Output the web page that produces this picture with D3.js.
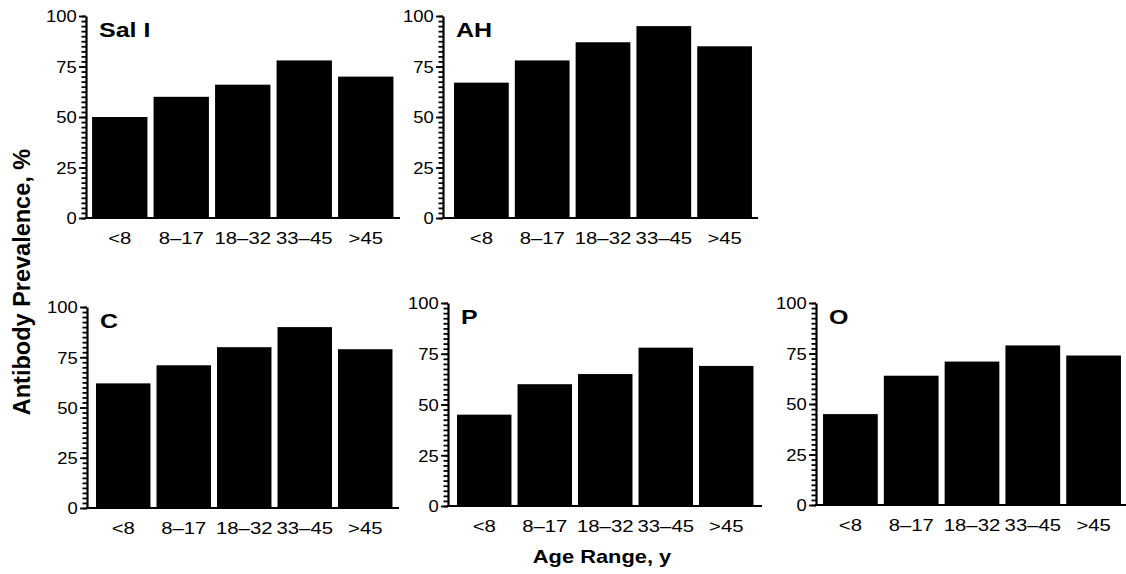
<!DOCTYPE html>
<html>
<head>
<meta charset="utf-8">
<script src="https://cdn.jsdelivr.net/npm/d3@7"></script>
<style>
  body { margin: 0; background: #fff; }
  svg { display: block; font-family: "Liberation Sans", Arial, sans-serif; }
</style>
</head>
<body>
<svg id="chart" width="1126" height="574"></svg>
<script>
// age groups shared by all panels
const ageGroups = ['<8', '8–17', '18–32', '33–45', '>45'];
const yTicks = [0, 25, 50, 75, 100];

// antibody prevalence, % per antigen
const salI = [50, 60, 66, 78, 70];
const ahVals = [67, 78, 87, 95, 85];
const cVals = [62, 71, 80, 90, 79];
const pVals = [45, 60, 65, 78, 69];
const oVals = [45, 64, 71, 79, 74];

// panel placement (pixels)
const panels = [
  { name: 'Sal I', values: salI, ax: 86, top: 16, bottom: 218, r0: 89, r1: 396.5, end: 400 },
  { name: 'AH', values: ahVals, ax: 443, top: 16, bottom: 218, r0: 451, r1: 755, end: 758 },
  { name: 'C', values: cVals, ax: 87, top: 307, bottom: 508, r0: 93, r1: 395.5, end: 399 },
  { name: 'P', values: pVals, ax: 448, top: 303, bottom: 506, r0: 454, r1: 756.5, end: 762 },
  { name: 'O', values: oVals, ax: 816, top: 303, bottom: 505, r0: 820, r1: 1124, end: 1126 },
];

const svg = d3.select('#chart');

panels.forEach(p => {
  const g = svg.append('g');
  const x = d3.scaleBand().domain(ageGroups).range([p.r0, p.r1])
    .paddingInner(0.1).paddingOuter(0.05);
  const y = d3.scaleLinear().domain([0, 100]).range([p.bottom, p.top]);

  // bars
  g.selectAll('rect.bar')
    .data(p.values)
    .enter().append('rect')
      .attr('class', 'bar')
      .attr('x', (d, i) => x(ageGroups[i]))
      .attr('y', d => y(d))
      .attr('width', x.bandwidth())
      .attr('height', d => y(0) - y(d))
      .attr('fill', '#000');

  // minor ticks
  g.append('g')
    .attr('transform', `translate(${p.ax},0)`)
    .call(d3.axisLeft(y).tickValues(d3.range(0, 100.01, 2.5)).tickSize(4.5).tickFormat(''))
    .call(a => a.select('.domain').remove())
    .call(a => a.selectAll('line').attr('stroke-width', 1.8));

  // major ticks + labels
  const yAxis = g.append('g')
    .attr('transform', `translate(${p.ax},0)`)
    .call(d3.axisLeft(y).tickValues(yTicks).tickSize(7).tickSizeOuter(0).tickPadding(2));
  yAxis.select('.domain').attr('stroke-width', 2.2);
  yAxis.selectAll('line').attr('stroke-width', 1.8);
  yAxis.selectAll('text')
    .attr('font-size', 16)
    .attr('fill', '#000')
    .attr('x', -8)
    .attr('dy', '0.36em')
    .attr('transform', 'scale(1.15,1)');

  // x baseline
  g.append('line')
    .attr('x1', p.ax - 1).attr('x2', p.end)
    .attr('y1', y(0)).attr('y2', y(0))
    .attr('stroke', '#000').attr('stroke-width', 2.2);

  // x labels
  const xAxis = g.append('g')
    .attr('transform', `translate(0,${y(0)})`)
    .call(d3.axisBottom(x).tickSize(0).tickPadding(0));
  xAxis.select('.domain').remove();
  xAxis.selectAll('text')
    .attr('font-size', 16)
    .attr('fill', '#000')
    .attr('dy', 26)
    .attr('transform', 'scale(1.27,1)');

  // panel name
  g.append('text')
    .attr('transform', `translate(${p.ax + 13},${y(100) + 21}) scale(1.25,1)`)
    .attr('font-size', 20)
    .attr('font-weight', 'bold')
    .text(p.name);
});

// axis titles
svg.append('text')
  .attr('transform', 'translate(30,282) rotate(-90)')
  .attr('text-anchor', 'middle')
  .attr('font-size', 23.5)
  .attr('font-weight', 'bold')
  .text('Antibody Prevalence, %');

svg.append('text')
  .attr('transform', 'translate(602,563) scale(1.25,1)')
  .attr('text-anchor', 'middle')
  .attr('font-size', 17.5)
  .attr('font-weight', 'bold')
  .text('Age Range, y');
</script>
</body>
</html>
